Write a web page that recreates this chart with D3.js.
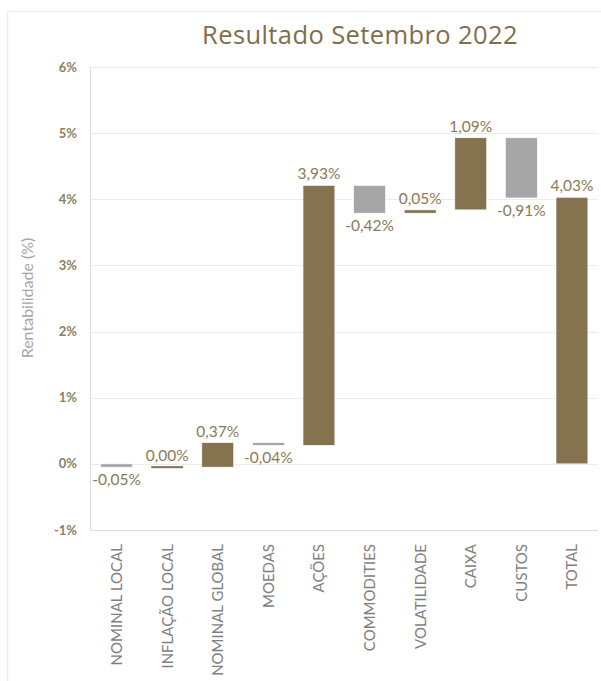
<!DOCTYPE html>
<html>
<head>
<meta charset="utf-8">
<script src="https://cdn.jsdelivr.net/npm/d3@7"></script>
<style>
  html, body { margin: 0; padding: 0; background: #ffffff; }
  svg { display: block; }
</style>
</head>
<body>
<div id="chart"></div>
<script>
// Waterfall of monthly return contributions
const categories = ["NOMINAL LOCAL", "INFLAÇÃO LOCAL", "NOMINAL GLOBAL", "MOEDAS", "AÇÕES",
                    "COMMODITIES", "VOLATILIDADE", "CAIXA", "CUSTOS", "TOTAL"];
const values = [-0.05, 0.00, 0.37, -0.04, 3.93, -0.42, 0.05, 1.09, -0.91, 4.03];
const totalCategory = "TOTAL";
const yTicks = [-1, 0, 1, 2, 3, 4, 5, 6];
const titleText = "Resultado Setembro 2022";
const yAxisTitle = "Rentabilidade (%)";

const W = 601, H = 681;
const plot = { left: 90, right: 598, top: 67, bottom: 530 };

const brown = "#857350";
const grey = "#a6a6a6";
const labelBrown = "#8a7a55";

const svg = d3.select("#chart").append("svg")
  .attr("width", W).attr("height", H);

// outer frame
svg.append("rect")
  .attr("x", 7.5).attr("y", 11.5)
  .attr("width", W + 10).attr("height", H + 10)
  .attr("fill", "none").attr("stroke", "#eeeeee").attr("stroke-width", 1.5);

// title
svg.append("text")
  .attr("x", 360).attr("y", 44)
  .attr("text-anchor", "middle")
  .attr("font-family", "'Open Sans', sans-serif")
  .attr("font-size", 25.5)
  .attr("letter-spacing", 0.4)
  .attr("fill", "#806e4b")
  .text(titleText);

const x = d3.scaleBand()
  .domain(categories)
  .range([91.5, 597])
  .paddingInner(0.37)
  .paddingOuter(0.18);

const y = d3.scaleLinear()
  .domain([-1, 6])
  .range([plot.bottom, plot.top]);

// gridlines
svg.append("g").selectAll("line")
  .data(yTicks)
  .join("line")
  .attr("x1", plot.left).attr("x2", plot.right)
  .attr("y1", d => Math.round(y(d)) + 0.5).attr("y2", d => Math.round(y(d)) + 0.5)
  .attr("stroke", d => d === -1 ? "#dedede" : "#ececec")
  .attr("stroke-width", 1);

// left axis line
svg.append("line")
  .attr("x1", plot.left + 0.5).attr("x2", plot.left + 0.5)
  .attr("y1", plot.top).attr("y2", plot.bottom + 0.5)
  .attr("stroke", "#dedede");

// y tick labels
const pct0 = d => (d < 0 ? "-" : "") + Math.abs(d) + "%";
svg.append("g").selectAll("text")
  .data(yTicks)
  .join("text")
  .attr("x", 77)
  .attr("y", d => y(d))
  .attr("dy", "0.35em")
  .attr("text-anchor", "end")
  .attr("font-family", "Lato, sans-serif")
  .attr("font-weight", "bold")
  .attr("font-size", 13)
  .attr("fill", "#8c7f5e")
  .text(pct0);

// y axis title
svg.append("text")
  .attr("transform", `translate(33, 298) rotate(-90)`)
  .attr("text-anchor", "middle")
  .attr("font-family", "Lato, sans-serif")
  .attr("font-size", 16)
  .attr("fill", "#a5a5a5")
  .text(yAxisTitle);

// waterfall steps
let running = 0;
const steps = categories.map((c, i) => {
  const v = values[i];
  let start, end;
  if (c === totalCategory) { start = 0; end = v; }
  else { start = running; end = running + v; running = end; }
  return { c, v, start, end };
});

const fmt = v => (v < 0 ? "-" : "") + Math.abs(v).toFixed(2).replace(".", ",") + "%";

svg.append("g").selectAll("rect")
  .data(steps)
  .join("rect")
  .attr("x", d => x(d.c))
  .attr("width", x.bandwidth())
  .attr("y", d => {
    const h = Math.abs(y(d.start) - y(d.end));
    const top = Math.min(y(d.start), y(d.end));
    return h < 2 ? top - 1 + h / 2 : top;
  })
  .attr("height", d => Math.max(2, Math.abs(y(d.start) - y(d.end))))
  .attr("fill", d => d.v >= 0 ? brown : grey)
  .attr("stroke", "#ffffff")
  .attr("stroke-width", d => Math.abs(y(d.start) - y(d.end)) < 2 ? 0 : 0.6);

// value labels: above for gains, below for losses
svg.append("g").selectAll("text")
  .data(steps)
  .join("text")
  .attr("x", d => x(d.c) + x.bandwidth() / 2)
  .attr("y", d => d.v >= 0
    ? y(Math.max(d.start, d.end)) - 6
    : y(Math.min(d.start, d.end)) + 18)
  .attr("text-anchor", "middle")
  .attr("font-family", "Lato, sans-serif")
  .attr("font-size", 15.5)
  .attr("fill", labelBrown)
  .text(d => fmt(d.v));

// category labels, rotated
svg.append("g").selectAll("text")
  .data(categories)
  .join("text")
  .attr("transform", d => `translate(${x(d) + x.bandwidth() / 2}, 544) rotate(-90)`)
  .attr("dy", "0.36em")
  .attr("text-anchor", "end")
  .attr("font-family", "Lato, sans-serif")
  .attr("font-size", 15)
  .attr("fill", "#7f7f7f")
  .text(d => d);
</script>
</body>
</html>
